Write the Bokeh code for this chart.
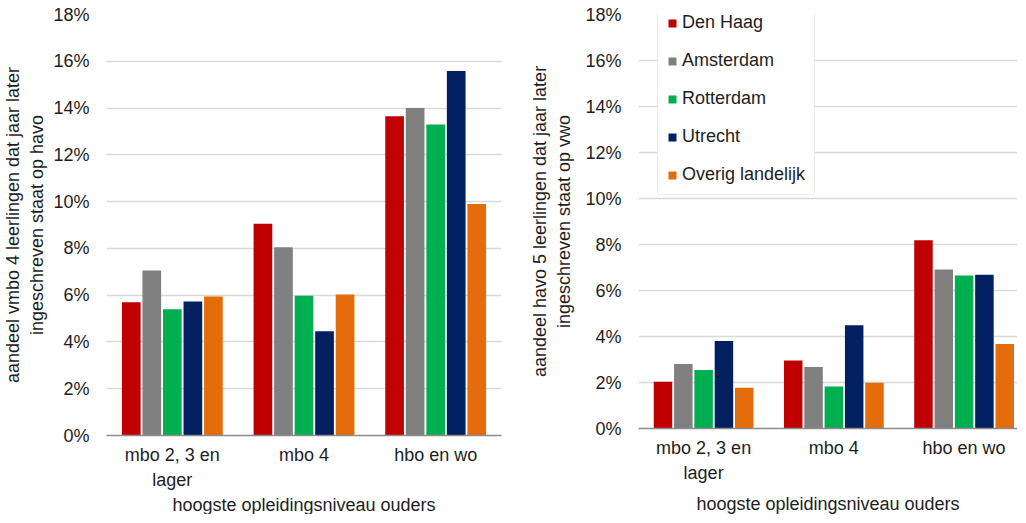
from bokeh.plotting import figure
from bokeh.layouts import row
from bokeh.models import (Range1d, FixedTicker, PrintfTickFormatter,
                          CustomJSTickFormatter, LinearAxis, ColumnDataSource)
from bokeh.embed import file_html
from bokeh.resources import INLINE

# ---------------- data ----------------
categories = ["mbo 2, 3 en\nlager", "mbo 4", "hbo en wo"]
series_names = ["Den Haag", "Amsterdam", "Rotterdam", "Utrecht", "Overig landelijk"]
series_colors = ["#C00000", "#808080", "#00B050", "#002060", "#E46C0A"]
y_ticks = [0, 2, 4, 6, 8, 10, 12, 14, 16, 18]

# left chart: vmbo 4 -> havo (percent)
vmbo_den_haag = [5.70, 9.05, 13.65]
vmbo_amsterdam = [7.05, 8.05, 14.00]
vmbo_rotterdam = [5.40, 5.97, 13.30]
vmbo_utrecht = [5.73, 4.46, 15.58]
vmbo_overig = [5.94, 6.03, 9.90]

# right chart: havo 5 -> vwo (percent)
havo_den_haag = [2.03, 2.96, 8.19]
havo_amsterdam = [2.80, 2.67, 6.91]
havo_rotterdam = [2.54, 1.83, 6.65]
havo_utrecht = [3.80, 4.49, 6.68]
havo_overig = [1.77, 1.99, 3.67]

left_label = "aandeel vmbo 4 leerlingen dat jaar later\ningeschreven staat op havo"
right_label = "aandeel havo 5 leerlingen dat jaar later\ningeschreven staat op vwo"
x_title = "hoogste opleidingsniveau ouders"

FONT = "Liberation Sans"
TXT = "#1e1e1e"
FS = "18px"


def make_chart(values, ylabel, x_end, frame_w, frame_h, b_left, b_right,
               b_top, b_bottom, ylabel_standoff, title_center, title_standoff,
               with_legend, legend_y):
    p = figure(frame_width=frame_w, frame_height=frame_h,
               x_range=Range1d(0, x_end), y_range=Range1d(0, 18),
               output_backend="svg", toolbar_location=None,
               min_border_left=b_left, min_border_right=b_right,
               min_border_top=b_top, min_border_bottom=b_bottom)
    p.outline_line_color = None
    p.background_fill_color = "white"
    p.border_fill_color = "white"

    bar_pitch = 0.156
    bar_w = 0.142
    for j, (name, col) in enumerate(zip(series_names, series_colors)):
        xs = [i + 0.5 + (j - 2) * bar_pitch for i in range(len(categories))]
        src = ColumnDataSource(dict(x=xs, top=values[j]))
        kw = dict(legend_label=name) if with_legend else {}
        p.vbar(x="x", top="top", width=bar_w, source=src, fill_color=col,
               line_color=None, **kw)

    # y axis
    p.yaxis.ticker = FixedTicker(ticks=y_ticks)
    p.yaxis.formatter = PrintfTickFormatter(format="%d%%")
    p.yaxis.axis_line_color = None
    p.yaxis.major_tick_line_color = None
    p.yaxis.minor_tick_line_color = None
    p.yaxis.major_tick_out = 0
    p.yaxis.major_tick_in = 0
    p.yaxis.minor_tick_out = 0
    p.yaxis.minor_tick_in = 0
    p.yaxis.major_label_standoff = 17
    p.yaxis.major_label_text_font = FONT
    p.yaxis.major_label_text_font_size = FS
    p.yaxis.major_label_text_color = TXT
    p.yaxis.axis_label = ylabel
    p.yaxis.axis_label_text_font = FONT
    p.yaxis.axis_label_text_font_size = FS
    p.yaxis.axis_label_text_font_style = "normal"
    p.yaxis.axis_label_text_color = TXT
    p.yaxis.axis_label_standoff = ylabel_standoff

    # x axis (categories)
    p.xaxis.ticker = FixedTicker(ticks=[i + 0.5 for i in range(len(categories))])
    p.xaxis.formatter = CustomJSTickFormatter(
        args=dict(labels=categories),
        code="const i = Math.floor(tick); return (i >= 0 && i < labels.length) ? labels[i] : '';")
    p.xaxis.axis_line_color = "#8c8c8c"
    p.xaxis.axis_line_width = 1.6
    p.xaxis.major_tick_line_color = None
    p.xaxis.minor_tick_line_color = None
    p.xaxis.major_tick_out = 0
    p.xaxis.major_tick_in = 0
    p.xaxis.minor_tick_out = 0
    p.xaxis.minor_tick_in = 0
    p.xaxis.major_label_standoff = 9
    p.xaxis.major_label_text_font = FONT
    p.xaxis.major_label_text_font_size = FS
    p.xaxis.major_label_text_color = TXT
    p.xaxis.major_label_text_line_height = 1.25

    # axis title, carried by a second (label-only) axis below
    title_axis = LinearAxis(
        ticker=FixedTicker(ticks=[]),
        bounds=(title_center - 0.5, title_center + 0.5),
        axis_line_color=None, major_tick_line_color=None,
        minor_tick_line_color=None, major_tick_out=0, major_tick_in=0,
        minor_tick_out=0, minor_tick_in=0, major_label_standoff=0,
        axis_label=x_title, axis_label_standoff=title_standoff,
        axis_label_text_font=FONT, axis_label_text_font_size=FS,
        axis_label_text_font_style="normal", axis_label_text_color=TXT)
    p.add_layout(title_axis, "below")

    p.xgrid.grid_line_color = None
    p.ygrid.ticker = FixedTicker(ticks=y_ticks)
    p.ygrid.grid_line_color = "#d9d9d9"
    p.ygrid.grid_line_width = 1.4

    if with_legend:
        lg = p.legend[0]
        lg.location = (19, legend_y)
        lg.margin = 0
        lg.padding = 9
        lg.spacing = 17
        lg.label_height = 20
        lg.glyph_height = 10
        lg.glyph_width = 10
        lg.label_standoff = 5
        lg.label_text_font = FONT
        lg.label_text_font_size = FS
        lg.label_text_color = TXT
        lg.border_line_color = "#d9d9d9"
        lg.border_line_width = 1.5
        lg.background_fill_color = "white"
        lg.background_fill_alpha = 1.0
    return p


left = make_chart([vmbo_den_haag, vmbo_amsterdam, vmbo_rotterdam, vmbo_utrecht, vmbo_overig],
                  left_label, 3.0, 395, 421, 99, 8, 11, 81, 3, 1.948, 2, False, 0)
right = make_chart([havo_den_haag, havo_amsterdam, havo_rotterdam, havo_utrecht, havo_overig],
                   right_label, 2.91, 379, 414, 129, 0, 14, 78, 8, 1.909, 8, True, 233)

layout = row(left, right, spacing=0)
open("out.html", "w").write(file_html(layout, INLINE))
